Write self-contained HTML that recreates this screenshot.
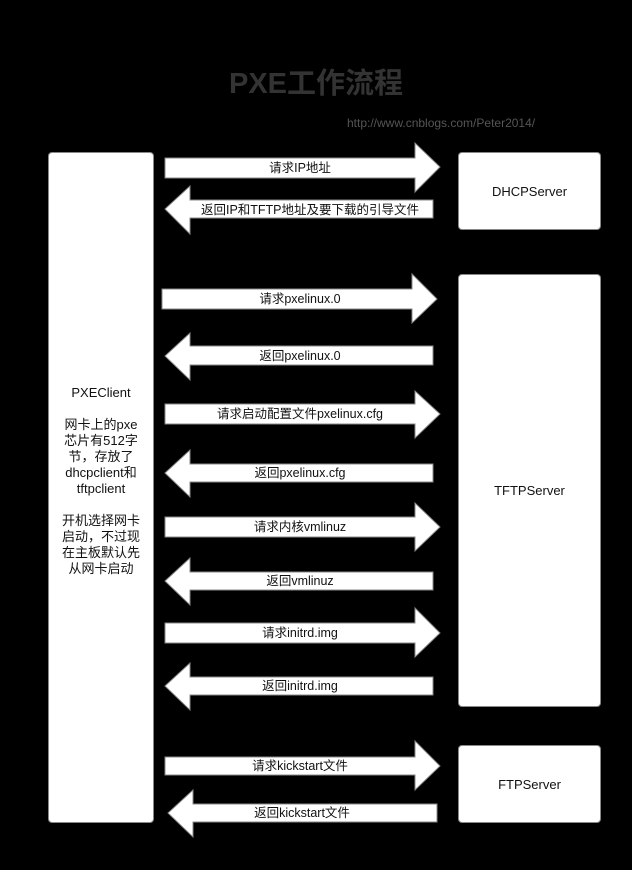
<!DOCTYPE html>
<html><head><meta charset="utf-8"><style>
body{margin:0;background:#000;width:632px;height:870px;overflow:hidden;position:relative;font-family:"Liberation Sans","Noto Sans CJK SC",sans-serif;}
.box{position:absolute;background:#fff;border:1px solid #888;border-radius:4px;box-sizing:border-box;display:flex;align-items:center;justify-content:center;text-align:center;font-size:13px;color:#111;}
svg{position:absolute;left:0;top:0}
</style></head><body>
<div style="position:absolute;left:0;width:632px;top:60px;text-align:center;font-size:29px;font-weight:bold;color:#333;">PXE工作流程</div>
<div style="position:absolute;left:347px;top:116px;font-size:12px;color:#555;">http://www.cnblogs.com/Peter2014/</div>
<div class="box" style="left:48px;top:152px;width:106px;height:671px;line-height:16px;padding:0 4px 14px;">PXEClient<br><br>网卡上的pxe<br>芯片有512字<br>节，存放了<br>dhcpclient和<br>tftpclient<br><br>开机选择网卡<br>启动，不过现<br>在主板默认先<br>从网卡启动</div>
<div class="box" style="left:458px;top:152px;width:143px;height:78px;">DHCPServer</div>
<div class="box" style="left:458px;top:274px;width:143px;height:433px;">TFTPServer</div>
<div class="box" style="left:458px;top:745px;width:143px;height:78px;">FTPServer</div>
<svg width="632" height="870" font-family="Liberation Sans, Noto Sans CJK SC, sans-serif" font-size="12.5" text-anchor="middle" fill="#111">
<g fill="#fff" stroke="#888" stroke-width="1">
<polygon points="165,158 415,158 415,143 440,167 415,192 415,178 165,178"/>
<polygon points="433,200 190,200 190,186 165,209 190,234 190,218 433,218"/>
<polygon points="162,289 412,289 412,274 437,299 412,323 412,309 162,309"/>
<polygon points="433,346 190,346 190,333 165,356 190,380 190,365 433,365"/>
<polygon points="165,404 415,404 415,391 440,414 415,438 415,424 165,424"/>
<polygon points="433,464 190,464 190,450 165,473 190,497 190,482 433,482"/>
<polygon points="165,517 415,517 415,503 440,527 415,551 415,537 165,537"/>
<polygon points="433,572 190,572 190,558 165,581 190,605 190,590 433,590"/>
<polygon points="165,623 415,623 415,608 440,633 415,657 415,643 165,643"/>
<polygon points="433,677 190,677 190,663 165,686 190,710 190,695 433,695"/>
<polygon points="165,757 415,757 415,741 440,766 415,790 415,775 165,775"/>
<polygon points="437,804 193,804 193,790 168,813 193,837 193,822 437,822"/>
</g>
<g fill="#111">
<text x="300" y="172">请求IP地址</text>
<text x="310" y="214">返回IP和TFTP地址及要下载的引导文件</text>
<text x="300" y="303">请求pxelinux.0</text>
<text x="300" y="360">返回pxelinux.0</text>
<text x="300" y="418">请求启动配置文件pxelinux.cfg</text>
<text x="300" y="477">返回pxelinux.cfg</text>
<text x="300" y="531">请求内核vmlinuz</text>
<text x="300" y="585">返回vmlinuz</text>
<text x="300" y="637">请求initrd.img</text>
<text x="300" y="690">返回initrd.img</text>
<text x="300" y="770">请求kickstart文件</text>
<text x="302" y="817">返回kickstart文件</text>
</g>
</svg>
</body></html>
